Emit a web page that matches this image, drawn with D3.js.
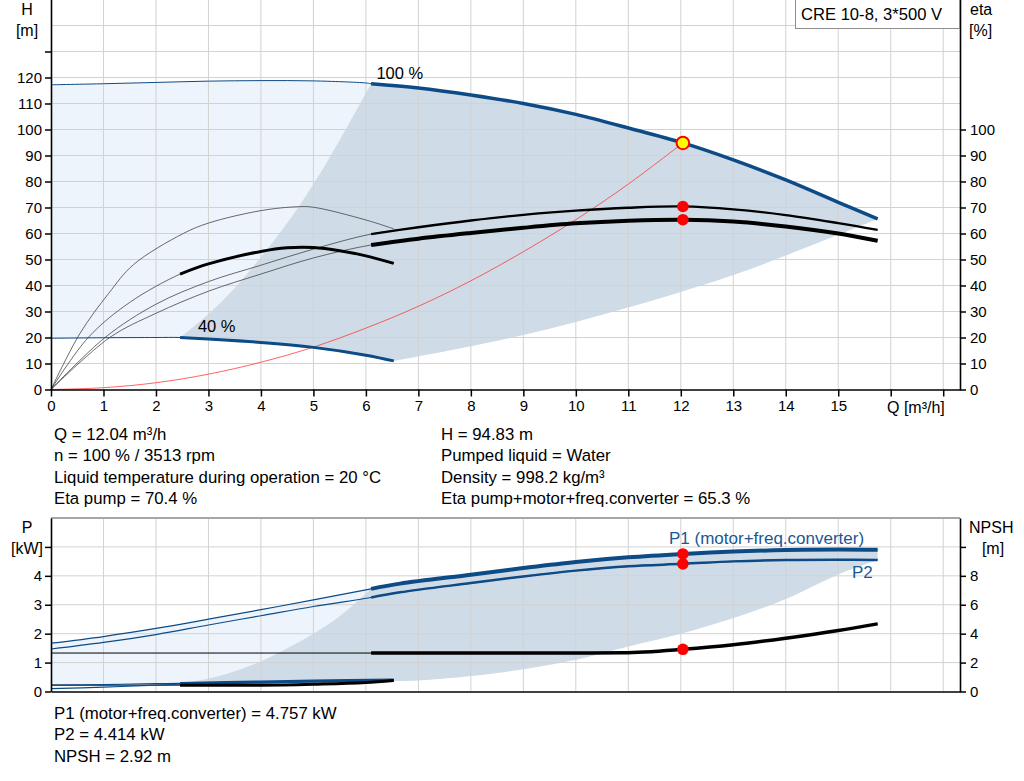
<!DOCTYPE html>
<html>
<head>
<meta charset="utf-8">
<script src="https://cdn.jsdelivr.net/npm/d3@7"></script>
<style>
  body { margin: 0; background: #fff; }
  svg { display: block; }
</style>
</head>
<body>
<svg id="chart" width="1024" height="781"></svg>
<script>
// --- data (Q in m³/h) ---
const qTicks = d3.range(0, 18);
const headTicks = d3.range(0, 140, 10);
const etaTicks = d3.range(0, 110, 10);
const powerTicks = [0, 1, 2, 3, 4, 5];
const npshTicks = [0, 2, 4, 6, 8, 10];

// where the thin (outside range) part of a curve turns into the thick part
const minFlowMax = 6.1;
const minFlowMin = 2.46;

const headMax = [[0, 117.2], [1, 117.6], [2, 118.1], [3, 118.6], [4, 118.8], [5, 118.7], [6, 117.9], [6.1, 117.6],
  [7, 116.0], [8, 113.3], [9, 110.0], [10, 105.8], [11, 100.6], [12.04, 94.83], [13, 88.3], [14, 80.6], [15, 72.0], [15.75, 65.6]];
const headMin = [[0, 19.7], [1, 19.9], [2, 20.0], [2.46, 20.0], [3, 19.4], [4, 18.1], [5, 16.2], [6, 13.2], [6.53, 11.0]];

const etaPumpMax = [[0, 0], [1.03, 20], [2, 32.8], [3, 41.5], [4, 47.8], [5, 54.0], [6.1, 59.8],
  [7, 62.4], [8, 65.0], [9, 67.2], [10, 68.8], [11, 69.9], [12.04, 70.4], [13, 69.3], [14, 67.1], [15, 64.0], [15.75, 61.4]];
const etaTotalMax = [[0, 0], [1.12, 20], [2, 29.3], [3, 37.8], [4, 44.4], [5, 50.6], [6.1, 55.6],
  [7, 58.0], [8, 60.2], [9, 62.2], [10, 63.9], [11, 64.9], [12.04, 65.3], [13, 64.6], [14, 62.7], [15, 60.0], [15.75, 57.2]];
const etaPumpMin = [[0, 0], [0.55, 21.5], [1.1, 37], [1.57, 48], [2.52, 60], [3, 64], [4, 68.8], [4.7, 70.3], [5, 70.1],
  [6, 65.2], [6.53, 61.8]];
const etaTotalMin = [[0, 0], [0.71, 20], [1.5, 33.5], [2.46, 44.4], [3, 48.3], [4, 53.1], [4.5, 54.5], [5, 54.6],
  [5.5, 53.4], [6, 51.4], [6.53, 48.5]];

const systemCurve = [[0, 0], [1, 0.7], [2, 2.6], [3, 5.9], [4, 10.5], [5, 16.3], [6, 23.6], [7, 32.0], [8, 41.8],
  [9, 53.0], [10, 65.3], [11, 79.0], [12.04, 94.83]];

const headRangeLeft = [[2.46, 20], [3, 29], [3.5, 39], [4, 51], [4.5, 64], [5, 79], [5.5, 96], [6.1, 117.6]];
const headRangeRight = [[6.53, 11.0], [7, 12.7], [8, 16.6], [9, 21.0], [10, 26.0], [11, 31.5], [12, 37.5], [13, 44.0],
  [14, 51.5], [15, 59.5], [15.75, 65.6]];

const p1Max = [[0, 1.67], [1, 1.9], [2, 2.18], [3, 2.5], [4, 2.83], [5, 3.17], [6.1, 3.55], [6.65, 3.73], [8, 4.04],
  [9, 4.27], [10, 4.48], [11, 4.64], [12.04, 4.757], [13, 4.84], [14, 4.89], [15, 4.91], [15.75, 4.9]];
const p2Max = [[0, 1.47], [1, 1.7], [2, 1.97], [3, 2.3], [4, 2.62], [5, 2.94], [6.1, 3.25], [6.65, 3.43], [8, 3.75],
  [9, 3.98], [10, 4.18], [11, 4.33], [12.04, 4.414], [13, 4.5], [14, 4.55], [15, 4.56], [15.75, 4.55]];
const npshMax = [[0, 2.66], [2, 2.66], [4, 2.66], [6.1, 2.66], [8, 2.66], [10, 2.66], [10.9, 2.68], [12.04, 2.92],
  [13, 3.23], [14, 3.69], [15, 4.22], [15.75, 4.68]];
const p1Min = [[0, 0.22], [1, 0.24], [2, 0.27], [2.46, 0.28], [4, 0.33], [5, 0.36], [6.53, 0.4]];
const p2Min = [[0, 0.1], [1, 0.15], [2, 0.22], [2.46, 0.25], [4, 0.3], [5, 0.33], [6.53, 0.36]];
const npshMin = [[0, 0.44], [2.46, 0.44], [4, 0.44], [5, 0.5], [6, 0.62], [6.53, 0.76]];

const powerRangeLeft = [[2.46, 0.28], [3, 0.45], [3.5, 0.7], [4, 1.05], [4.5, 1.5], [5, 2.0], [5.5, 2.6], [6.1, 3.55]];
const powerRangeRight = [[6.53, 0.36], [7, 0.38], [8.5, 0.64], [10, 1.1], [11, 1.56], [12, 2.0], [12.9, 2.48],
  [14, 3.2], [15, 4.05], [15.75, 4.55]];

const duty = { q: 12.04, h: 94.83, etaPump: 70.4, etaTotal: 65.3, p1: 4.757, p2: 4.414, npsh: 2.92 };

const dutyLeft = ['Q = 12.04 m³/h', 'n = 100 % / 3513 rpm', 'Liquid temperature during operation = 20 °C', 'Eta pump = 70.4 %'];
const dutyRight = ['H = 94.83 m', 'Pumped liquid = Water', 'Density = 998.2 kg/m³', 'Eta pump+motor+freq.converter = 65.3 %'];
const powerInfo = ['P1 (motor+freq.converter) = 4.757 kW', 'P2 = 4.414 kW', 'NPSH = 2.92 m'];

// --- layout ---
const FONT = '"Liberation Sans", Arial, sans-serif';
const BLUE = '#0d4b86';
const LABEL_BLUE = '#1a5796';
const LIGHT_FILL = '#edf4fc';
const RANGE_FILL = '#cfdbe7';
const GRID = '#d2d2d2';

const svg = d3.select('#chart').attr('font-family', FONT);

const x = d3.scaleLinear().domain([0, 17.32]).range([51, 960]);
const yH = d3.scaleLinear().domain([0, 150]).range([389.5, -0.5]);
const yP = d3.scaleLinear().domain([0, 6]).range([691.5, 518]);
const yN = d3.scaleLinear().domain([0, 12]).range([691.5, 518]);

const thin = (pts, q) => pts.filter(d => d[0] <= q);
const thick = (pts, q) => pts.filter(d => d[0] >= q);

function lineFor(y, curve = d3.curveCatmullRom.alpha(0.5)) {
  return d3.line().x(d => x(d[0])).y(d => y(d[1])).curve(curve);
}

function closedPath(parts) {
  return parts.map((p, i) => (i ? p.replace(/^M/, 'L') : p)).join('') + 'Z';
}

function drawCurve(g, y, pts, color, width, curve) {
  g.append('path')
    .attr('d', lineFor(y, curve)(pts))
    .attr('fill', 'none')
    .attr('stroke', color)
    .attr('stroke-width', width);
}

function drawGrid(g, y, yTicks, y0, y1) {
  g.append('g').selectAll('line').data(d3.range(1, 18)).join('line')
    .attr('x1', d => x(d)).attr('x2', d => x(d))
    .attr('y1', y0).attr('y2', y1)
    .attr('stroke', GRID).attr('stroke-width', 1);
  g.append('g').selectAll('line').data(yTicks).join('line')
    .attr('x1', x.range()[0]).attr('x2', x.range()[1])
    .attr('y1', d => y(d)).attr('y2', d => y(d))
    .attr('stroke', GRID).attr('stroke-width', 1);
}

function styleAxis(g) {
  g.attr('font-family', FONT).attr('font-size', 15);
  g.select('.domain').attr('stroke', '#000').attr('stroke-width', 1.6);
  g.selectAll('.tick line').attr('stroke', '#000').attr('stroke-width', 1.5);
  g.selectAll('.tick text').attr('fill', '#000');
}

// ===== head / efficiency chart =====
const headChart = svg.append('g');
const hLine = lineFor(yH);

headChart.append('path')
  .attr('d', closedPath([
    hLine(thin(headMax, minFlowMax)),
    hLine(headRangeLeft.slice().reverse()),
    hLine(thin(headMin, minFlowMin).reverse())
  ]))
  .attr('fill', LIGHT_FILL);

headChart.append('path')
  .attr('d', closedPath([
    hLine(thick(headMin, minFlowMin)),
    hLine(headRangeRight),
    hLine(thick(headMax, minFlowMax).reverse()),
    hLine(headRangeLeft.slice().reverse())
  ]))
  .attr('fill', RANGE_FILL);

drawGrid(headChart, yH, d3.range(10, 150, 10), 0, yH(0));

drawCurve(headChart, yH, systemCurve, '#ff3b3b', 0.8);

drawCurve(headChart, yH, etaPumpMin, '#444', 0.8);
drawCurve(headChart, yH, etaTotalMin, '#444', 0.8);
drawCurve(headChart, yH, etaPumpMax, '#444', 0.8);
drawCurve(headChart, yH, etaTotalMax, '#444', 0.8);
drawCurve(headChart, yH, thick(etaTotalMin, minFlowMin), '#000', 3);
drawCurve(headChart, yH, thick(etaPumpMax, minFlowMax), '#000', 2.3);
drawCurve(headChart, yH, thick(etaTotalMax, minFlowMax), '#000', 4);

drawCurve(headChart, yH, headMax, BLUE, 1);
drawCurve(headChart, yH, headMin, BLUE, 1);
drawCurve(headChart, yH, thick(headMax, minFlowMax), BLUE, 3.5);
drawCurve(headChart, yH, thick(headMin, minFlowMin), BLUE, 3);

headChart.append('text').attr('x', x(6.2)).attr('y', yH(118.5) - 2).attr('font-size', 16.5).text('100 %');
headChart.append('text').attr('x', x(2.8)).attr('y', yH(20) - 6).attr('font-size', 16.5).text('40 %');

headChart.selectAll('circle.eta').data([duty.etaPump, duty.etaTotal]).join('circle')
  .attr('class', 'eta')
  .attr('cx', x(duty.q)).attr('cy', d => yH(d)).attr('r', 5.8)
  .attr('fill', '#ff0000');
headChart.append('circle')
  .attr('cx', x(duty.q)).attr('cy', yH(duty.h)).attr('r', 6.3)
  .attr('fill', '#ffff00').attr('stroke', '#ff0000').attr('stroke-width', 2);

headChart.append('g')
  .attr('transform', `translate(0,${yH(0)})`)
  .call(d3.axisBottom(x).tickValues(qTicks).tickSize(7).tickPadding(4).tickSizeOuter(0)
    .tickFormat(d => (d <= 15 ? d : '')))
  .call(styleAxis);
headChart.append('g')
  .attr('transform', `translate(${x(0)},0)`)
  .call(d3.axisLeft(yH).tickValues(headTicks).tickSize(6).tickPadding(3).tickSizeOuter(0)
    .tickFormat(d => (d <= 120 ? d : '')))
  .call(styleAxis);
headChart.append('g')
  .attr('transform', `translate(${x.range()[1]},0)`)
  .call(d3.axisRight(yH).tickValues(etaTicks).tickSize(6).tickPadding(4).tickSizeOuter(0))
  .call(styleAxis);

headChart.append('text').attr('x', 887).attr('y', 413).attr('font-size', 16).text('Q [m³/h]');
headChart.append('text').attr('x', 27).attr('y', 15).attr('text-anchor', 'middle').attr('font-size', 16).text('H');
headChart.append('text').attr('x', 27).attr('y', 36).attr('text-anchor', 'middle').attr('font-size', 16).text('[m]');
headChart.append('text').attr('x', 970).attr('y', 15).attr('font-size', 16).text('eta');
headChart.append('text').attr('x', 969).attr('y', 36).attr('font-size', 16).text('[%]');

headChart.append('rect')
  .attr('x', 795.5).attr('y', -1).attr('width', 164).attr('height', 29.5)
  .attr('fill', '#fff').attr('stroke', '#8c8c8c').attr('stroke-width', 1);
headChart.append('text').attr('x', 801).attr('y', 20).attr('font-size', 16.6).text('CRE 10-8, 3*500 V');

svg.append('g').selectAll('text').data(dutyLeft).join('text')
  .attr('x', 54).attr('y', (d, i) => 440 + i * 21.3).attr('font-size', 16.8).text(d => d);
svg.append('g').selectAll('text').data(dutyRight).join('text')
  .attr('x', 441).attr('y', (d, i) => 440 + i * 21.3).attr('font-size', 16.8).text(d => d);

// ===== power / NPSH chart =====
const powerChart = svg.append('g');
const pLine = lineFor(yP);

powerChart.append('path')
  .attr('d', closedPath([
    pLine(thin(p1Max, minFlowMax)),
    pLine(powerRangeLeft.slice().reverse()),
    pLine(thin(p1Min, minFlowMin).reverse())
  ]))
  .attr('fill', LIGHT_FILL);

powerChart.append('path')
  .attr('d', closedPath([
    pLine(thick(p2Min, minFlowMin)),
    pLine(powerRangeRight),
    pLine(thick(p1Max, minFlowMax).reverse()),
    pLine(powerRangeLeft.slice().reverse())
  ]))
  .attr('fill', RANGE_FILL);

drawGrid(powerChart, yP, [1, 2, 3, 4, 5], yP.range()[1], yP(0));
powerChart.append('line')
  .attr('x1', x.range()[0]).attr('x2', x.range()[1])
  .attr('y1', yP.range()[1]).attr('y2', yP.range()[1])
  .attr('stroke', '#a6a6a6').attr('stroke-width', 2);

const flat = d3.curveMonotoneX;
drawCurve(powerChart, yN, npshMax, '#000', 1, flat);
drawCurve(powerChart, yN, npshMin, '#000', 1, flat);
drawCurve(powerChart, yP, p1Max, BLUE, 1.2);
drawCurve(powerChart, yP, p2Max, BLUE, 1.2);
drawCurve(powerChart, yP, p1Min, BLUE, 1.2);
drawCurve(powerChart, yP, p2Min, BLUE, 1.2);
drawCurve(powerChart, yP, thick(p1Min, minFlowMin), BLUE, 3);
drawCurve(powerChart, yN, thick(npshMin, minFlowMin), '#000', 3, flat);
drawCurve(powerChart, yN, thick(npshMax, minFlowMax), '#000', 3.5, flat);
drawCurve(powerChart, yP, thick(p2Max, minFlowMax), BLUE, 2.5);
drawCurve(powerChart, yP, thick(p1Max, minFlowMax), BLUE, 4);

powerChart.append('text').attr('x', 669).attr('y', 544).attr('font-size', 17).attr('fill', LABEL_BLUE)
  .text('P1 (motor+freq.converter)');
powerChart.append('text').attr('x', 852).attr('y', 578).attr('font-size', 17).attr('fill', LABEL_BLUE).text('P2');

powerChart.selectAll('circle').data([yP(duty.p1), yP(duty.p2), yN(duty.npsh)]).join('circle')
  .attr('cx', x(duty.q)).attr('cy', d => d).attr('r', 5.8).attr('fill', '#ff0000');

powerChart.append('g')
  .attr('transform', `translate(0,${yP(0)})`)
  .call(d3.axisBottom(x).tickValues([]).tickSizeOuter(0))
  .call(styleAxis);
powerChart.append('g')
  .attr('transform', `translate(${x(0)},0)`)
  .call(d3.axisLeft(yP).tickValues(powerTicks).tickSize(6).tickPadding(3).tickSizeOuter(0)
    .tickFormat(d => (d <= 4 ? d : '')))
  .call(styleAxis);
powerChart.append('g')
  .attr('transform', `translate(${x.range()[1]},0)`)
  .call(d3.axisRight(yN).tickValues(npshTicks).tickSize(6).tickPadding(4).tickSizeOuter(0)
    .tickFormat(d => (d <= 8 ? d : '')))
  .call(styleAxis);

powerChart.append('text').attr('x', 27).attr('y', 533).attr('text-anchor', 'middle').attr('font-size', 16).text('P');
powerChart.append('text').attr('x', 27).attr('y', 554).attr('text-anchor', 'middle').attr('font-size', 16).text('[kW]');
powerChart.append('text').attr('x', 969).attr('y', 533).attr('font-size', 16).text('NPSH');
powerChart.append('text').attr('x', 993).attr('y', 554).attr('text-anchor', 'middle').attr('font-size', 16).text('[m]');

svg.append('g').selectAll('text').data(powerInfo).join('text')
  .attr('x', 54).attr('y', (d, i) => 719 + i * 21.3).attr('font-size', 16.8).text(d => d);
</script>
</body>
</html>
